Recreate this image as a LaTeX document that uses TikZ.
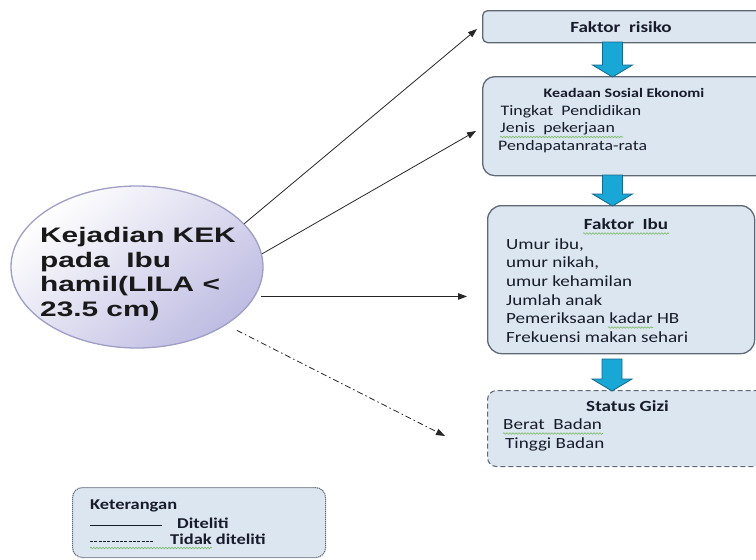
\documentclass[tikz,border=0pt]{standalone}
\usepackage{fontspec}
\setmainfont{Carlito}[FakeStretch=1.23]
\newfontfamily\ellfont{Liberation Sans}[FakeStretch=1.42]
\usetikzlibrary{shapes.geometric,arrows.meta,calc,decorations.pathmorphing}
\definecolor{boxfill}{RGB}{220,230,241}
\definecolor{boxline}{RGB}{95,105,118}
\definecolor{cyanfill}{RGB}{25,168,214}
\definecolor{cyanline}{RGB}{20,105,140}
\definecolor{ellfill}{RGB}{190,188,226}
\definecolor{ellline}{RGB}{158,158,198}
\definecolor{txt}{RGB}{24,28,42}
\definecolor{squig}{RGB}{120,185,95}
\tikzset{
  box/.style={draw=boxline, line width=1.3pt, fill=boxfill, rounded corners=#1, anchor=north west, inner sep=0pt},
  box/.default=6pt,
  ttl/.style={font=\bfseries\fontsize{15.5}{18}\selectfont, text=txt, inner sep=0pt, anchor=base},
  body/.style={font=\fontsize{15.5}{18}\selectfont, text=txt, inner sep=0pt, anchor=base west},
  bodysm/.style={font=\fontsize{14.5}{17}\selectfont, text=txt, inner sep=0pt, anchor=base west},
  leg/.style={font=\bfseries\fontsize{15}{17}\selectfont, text=txt, inner sep=0pt, anchor=base west},
  elltxt/.style={font=\ellfont\bfseries\fontsize{21}{25}\selectfont, text=black!90, inner sep=0pt, anchor=base west},
  arr/.style={-{Triangle[length=9pt,width=6.5pt]}, line width=0.8pt, draw=black!85},
  dashdot/.style={arr, dash pattern=on 6pt off 3pt on 1.5pt off 3pt},
  fatarr/.style={fill=cyanfill, draw=cyanline, line width=0.8pt, line join=miter},
  squiggle/.style={draw=squig, line width=0.6pt, decorate, decoration={snake, amplitude=0.8pt, segment length=3pt}}
}
\newcommand\fatarrow[2]{%
  \draw[fatarr] ($(#1)+(-10,0)$) -- ($(#2)+(-10,-12)$) -- ($(#2)+(-20,-12)$) -- (#2)
    -- ($(#2)+(20,-12)$) -- ($(#2)+(10,-12)$) -- ($(#1)+(10,0)$) -- cycle;}
\begin{document}
\begin{tikzpicture}[x=1pt,y=-1pt]
\useasboundingbox (0,0) rectangle (756,560);

% boxes
\node[box=5pt, minimum width=285, minimum height=32] (b1) at (482,10) {};
\node[box=12pt, minimum width=285, minimum height=99] (b2) at (482,76) {};
\node[box=14pt, minimum width=267, minimum height=148] (b3) at (487,205) {};
\node[box=9pt, dash pattern=on 5pt off 3pt, line width=1.1pt, minimum width=280, minimum height=76] (b4) at (487,390) {};
\node[box=10pt, dash pattern=on 1.2pt off 0.8pt, line width=1.1pt, minimum width=253, minimum height=70] (lg) at (72,487) {};

% big blue arrows
\coordinate (a1s) at (612.5,42);  \coordinate (a1e) at (612.5,77);
\coordinate (a2s) at (612.5,175); \coordinate (a2e) at (612.5,206);
\coordinate (a3s) at (612,359);   \coordinate (a3e) at (612,391);
\fatarrow{a1s}{a1e}
\fatarrow{a2s}{a2e}
\fatarrow{a3s}{a3e}

% box 1
\node[ttl] (t1) at (621,32) {Faktor\ \ risiko};
% box 2
\node[ttl, font=\bfseries\fontsize{13}{15}\selectfont] (t2) at (624,97) {Keadaan Sosial Ekonomi};
\node[bodysm] (t2a) at (500.5,115) {Tingkat\ \ Pendidikan};
\node[bodysm] (t2b) at (500,132.5) {Jenis\ \ pekerjaan};
\node[bodysm] (t2c) at (498,150.5) {Pendapatanrata-rata};
\draw[squiggle] (500,137) -- (623,137);
% box 3
\node[ttl] (t3) at (626,229) {Faktor\ \ Ibu};
\draw[squiggle] (583,233.5) -- (669,233.5);
\node[body] (t3a) at (506,249) {Umur ibu,};
\node[body] (t3b) at (506,267.7) {umur nikah,};
\node[body] (t3c) at (506,286.4) {umur kehamilan};
\node[body] (t3d) at (506,305) {Jumlah anak};
\node[body] (t3e) at (506,323.6) {Pemeriksaan kadar HB};
\node[body] (t3f) at (506,342) {Frekuensi makan sehari};
\draw[squiggle] (608,327.5) -- (653,327.5);
% box 4
\node[ttl] (t4) at (627.5,411.5) {Status Gizi};
\node[body] (t4a) at (503,429) {Berat\ \ Badan};
\node[body] (t4b) at (505,448) {Tinggi Badan};
\draw[squiggle] (503,433.5) -- (603,433.5);

% ellipse
\node[ellipse, draw=ellline, line width=1.3pt, top color=white, bottom color=ellfill, shading angle=40,
      minimum width=252, minimum height=162, inner sep=0pt] (ell) at (137,267) {};
\node[elltxt] (k1) at (40,242) {Kejadian KEK};
\node[elltxt] (k2) at (40,267) {pada\ \ Ibu};
\node[elltxt] (k3) at (40,291) {hamil(LILA\ <};
\node[elltxt] (k4) at (40,316) {23.5 cm)};

% connectors
\coordinate (c1) at (477,29);
\coordinate (c2) at (476,131);
\coordinate (c3) at (467,298);
\coordinate (c4) at (445,436);
\draw[arr] (ell.22) -- (c1);
\draw[arr] (ell.6) -- (c2);
\draw[arr, shorten <=6pt] (ell.-14) -- (ell.-14 -| c3);
\draw[dashdot, shorten <=12pt] (ell.-33) -- (c4);

% legend
\node[leg] (l1) at (90,509) {Keterangan};
\coordinate (ls1) at (90,525); \coordinate (le1) at (162,525);
\draw[line width=1pt, draw=txt] (ls1) -- (le1);
\node[leg] (l2) at (177,528) {Diteliti};
\coordinate (ls2) at (90,541); \coordinate (le2) at (153,541);
\draw[line width=1pt, draw=txt, dash pattern=on 3pt off 1.3pt] (ls2) -- (le2);
\node[leg] (l3) at (170,544) {Tidak diteliti};
\draw[squiggle] (90,548) -- (212,548);
\end{tikzpicture}
\end{document}
